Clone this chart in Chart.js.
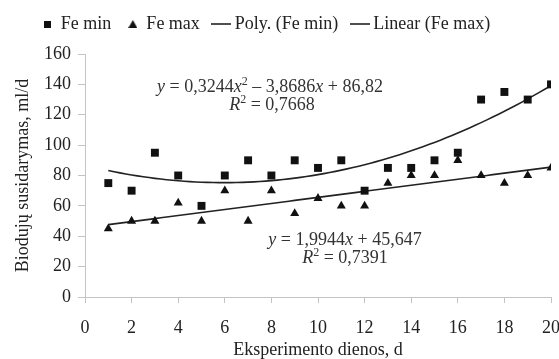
<!DOCTYPE html>
<html>
<head>
<meta charset="utf-8">
<script src="https://cdn.jsdelivr.net/npm/chart.js@4/dist/chart.umd.min.js"></script>
<style>
  html, body { margin: 0; padding: 0; background: #fff; }
  #wrap { width: 559px; height: 359px; }
</style>
</head>
<body>
<div id="wrap"><canvas id="myChart"></canvas></div>
<script>
// Dienos
var days = [1, 2, 3, 4, 5, 6, 7, 8, 9, 10, 11, 12, 13, 14, 15, 16, 17, 18, 19, 20];
// Biodujų susidarymas, ml/d
var feMin = [75, 70, 95, 80, 60, 80, 90, 80, 90, 85, 90, 70, 85, 85, 90, 95, 130, 135, 130, 140];
var feMax = [45, 50, 50, 62, 50, 70, 50, 70, 55, 65, 60, 60, 75, 80, 80, 90, 80, 75, 80, 85];
// Tendencijų koeficientai (iš paveikslo)
var polyCoef = [86.82, -3.8686, 0.3244];
var linCoef = [45.647, 1.9944];
var yTicks = [0, 20, 40, 60, 80, 100, 120, 140, 160];
var xTicks = [0, 2, 4, 6, 8, 10, 12, 14, 16, 18, 20];

var serif = '"Liberation Serif", "Times New Roman", serif';
var ink = '#222';
var axisGray = '#c4c4c4';

function pts(xs, ys) {
  return xs.map(function(x, i) { return { x: x, y: ys[i] }; });
}
function trend(coef) {
  var out = [];
  for (var x = days[0]; x <= days[days.length - 1] + 1e-9; x += 0.25) {
    var y = 0;
    for (var k = 0; k < coef.length; k++) y += coef[k] * Math.pow(x, k);
    out.push({ x: x, y: y });
  }
  return out;
}

// legendos ženklai
function icon(kind) {
  var c = document.createElement('canvas');
  var g = c.getContext('2d');
  if (kind === 'rect') {
    c.width = 7; c.height = 7;
    g.fillStyle = '#111';
    g.fillRect(0, 0, 7, 7);
  } else if (kind === 'triangle') {
    c.width = 9; c.height = 8;
    g.fillStyle = '#111';
    g.beginPath(); g.moveTo(4.5, 0); g.lineTo(9, 8); g.lineTo(0, 8); g.closePath(); g.fill();
  } else {
    c.width = 20; c.height = 4;
    g.strokeStyle = ink;
    g.lineWidth = 1.6;
    g.beginPath(); g.moveTo(0, 2); g.lineTo(20, 2); g.stroke();
  }
  return c;
}
var legendIcons = [icon('rect'), icon('triangle'), icon('line'), icon('line')];

// Lygčių tekstas: [tekstas, kursyvas, laipsnis]
var eqPoly = [['y', 1], [' = 0,3244'], ['x', 1], ['2', 0, 1], [' \u2013 3,8686'], ['x', 1], [' + 86,82']];
var r2Poly = [['R', 1], ['2', 0, 1], [' = 0,7668']];
var eqLin = [['y', 1], [' = 1,9944'], ['x', 1], [' + 45,647']];
var r2Lin = [['R', 1], ['2', 0, 1], [' = 0,7391']];

function drawRuns(ctx, runs, cx, cy) {
  var size = 18;
  function font(r) {
    return (r[1] ? 'italic ' : '') + (r[2] ? 12 : size) + 'px ' + serif;
  }
  var w = 0;
  runs.forEach(function(r) { ctx.font = font(r); w += ctx.measureText(r[0]).width; });
  var x = cx - w / 2;
  ctx.textBaseline = 'middle';
  ctx.textAlign = 'left';
  runs.forEach(function(r) {
    ctx.font = font(r);
    ctx.fillText(r[0], x, r[2] ? cy - 5 : cy);
    x += ctx.measureText(r[0]).width;
  });
}

var labelsPlugin = {
  id: 'eqLabels',
  afterLayout: function(chart) {
    // legenda truputį į kairę ir aukštyn, kaip originale
    var lg = chart.legend;
    if (lg) {
      lg.left -= 13; lg.right -= 13;
      lg.top -= 11; lg.bottom -= 11;
    }
  },
  afterDatasetsDraw: function(chart) {
    var ctx = chart.ctx;
    ctx.save();
    ctx.fillStyle = '#333';
    drawRuns(ctx, eqPoly, 270, 87);
    drawRuns(ctx, r2Poly, 272, 105);
    drawRuns(ctx, eqLin, 345, 240);
    drawRuns(ctx, r2Lin, 345, 258);
    ctx.restore();
  }
};

var ctx = document.getElementById('myChart').getContext('2d');
var myChart = new Chart(ctx, {
  type: 'scatter',
  data: {
    datasets: [
      { label: 'Fe min', data: pts(days, feMin), pointStyle: 'rect', pointRadius: 5.6,
        backgroundColor: '#111', borderColor: '#111', borderWidth: 0, order: 1 },
      { label: 'Fe max', data: pts(days, feMax), pointStyle: 'triangle', pointRadius: 5.2,
        backgroundColor: '#111', borderColor: '#111', borderWidth: 0, order: 2 },
      { label: 'Poly. (Fe min)', type: 'line', data: trend(polyCoef), showLine: true,
        pointRadius: 0, borderColor: ink, borderWidth: 1.6, tension: 0, fill: false, order: 3 },
      { label: 'Linear (Fe max)', type: 'line', data: trend(linCoef), showLine: true,
        pointRadius: 0, borderColor: ink, borderWidth: 1.6, tension: 0, fill: false, order: 4 }
    ]
  },
  options: {
    responsive: true,
    maintainAspectRatio: false,
    animation: false,
    layout: { padding: { left: 0, right: 0, top: 2, bottom: 0 } },
    plugins: {
      tooltip: { enabled: false },
      legend: {
        position: 'top',
        labels: {
          usePointStyle: true,
          pointStyleWidth: 9,
          boxHeight: 8,
          padding: 17,
          color: ink,
          font: { family: serif, size: 18 },
          generateLabels: function(chart) {
            return chart.data.datasets.map(function(ds, i) {
              return {
                text: ds.label,
                fillStyle: '#111',
                strokeStyle: '#111',
                lineWidth: 0,
                pointStyle: legendIcons[i],
                fontColor: ink,
                datasetIndex: i,
                hidden: false
              };
            });
          }
        }
      }
    },
    scales: {
      x: {
        type: 'linear',
        min: 0, max: 20,
        afterBuildTicks: function(s) { s.ticks = xTicks.map(function(v) { return { value: v }; }); },
        afterFit: function(s) { s.height = 62; s.paddingRight = 8; },
        grid: { drawOnChartArea: false, drawTicks: true, tickLength: 6, color: axisGray },
        border: { color: axisGray, width: 1 },
        ticks: { color: ink, padding: 14, maxRotation: 0, font: { family: serif, size: 18 } },
        title: { display: true, text: 'Eksperimento dienos, d', color: ink, padding: { top: 0, bottom: 0 },
          font: { family: serif, size: 18, lineHeight: 1 } }
      },
      y: {
        min: 0, max: 160,
        afterBuildTicks: function(s) { s.ticks = yTicks.map(function(v) { return { value: v }; }); },
        afterFit: function(s) { s.width = 85; s.paddingTop = 54; },
        grid: { drawOnChartArea: false, drawTicks: true, tickLength: 7, color: axisGray },
        border: { color: axisGray, width: 1 },
        ticks: { color: ink, padding: 7, font: { family: serif, size: 18 } },
        title: { display: true, text: 'Biodujų susidarymas, ml/d', color: ink, padding: { top: 14, bottom: 0 },
          font: { family: serif, size: 18, lineHeight: 1 } }
      }
    }
  },
  plugins: [labelsPlugin]
});
</script>
</body>
</html>
